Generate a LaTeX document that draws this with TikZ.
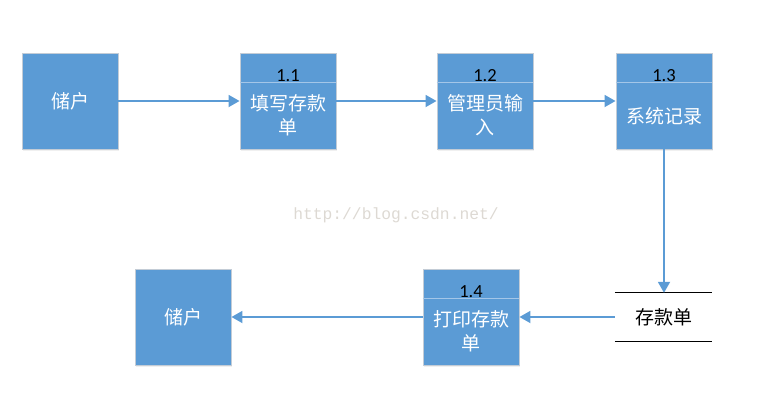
\documentclass[tikz,border=0pt]{standalone}
\usepackage{fontspec}
\setmainfont{Carlito}
\newfontfamily\cjk{Noto Sans CJK SC}
\newfontfamily\wmfont{Liberation Mono}
\usetikzlibrary{arrows.meta,shadows}
\definecolor{boxfill}{HTML}{5B9BD5}
\definecolor{boxedge}{HTML}{C3CCD6}
\definecolor{divcol}{HTML}{A4C6E8}
\definecolor{flowcol}{HTML}{5B9BD5}
\definecolor{wmcol}{HTML}{DDD9D3}
\tikzset{
  entitybox/.style={rectangle, fill=boxfill, draw=boxedge, line width=0.9pt,
    minimum width=96pt, minimum height=96pt, inner sep=0pt,
    drop shadow={opacity=0.12, shadow xshift=0.5pt, shadow yshift=-2pt},
    text=white, font=\cjk\fontsize{19}{24}\selectfont},
  procbox/.style={rectangle, fill=boxfill, draw=boxedge, line width=0.9pt,
    minimum width=96pt, minimum height=96pt, inner sep=0pt,
    drop shadow={opacity=0.12, shadow xshift=0.5pt, shadow yshift=-2pt}},
  divline/.style={draw=divcol, line width=1pt},
  numlabel/.style={anchor=base, inner sep=0pt, text=black,
    font=\fontsize{18.5}{22}\selectfont},
  proclabel/.style={inner sep=0pt, text=white, align=center,
    font=\cjk\fontsize{19}{24}\selectfont},
  storenode/.style={rectangle, minimum width=97pt, minimum height=48pt,
    inner sep=0pt, text=black, font=\cjk\fontsize{19}{24}\selectfont},
  storeline/.style={draw=black, line width=0.9pt},
  flow/.style={draw=flowcol, line width=1.8pt,
    -{Triangle[length=11pt,width=12pt]}},
  watermark/.style={text=wmcol, font=\wmfont\fontsize{16.3}{18}\selectfont, inner sep=0pt}
}
\begin{document}
\begin{tikzpicture}[x=1pt,y=-1pt]
\useasboundingbox (0,0) rectangle (776,410);

% entities
\node[entitybox] (src) at (70,101) {储户};
\node[entitybox] (dst) at (183,317) {储户};

% processes
\node[procbox] (p1) at (288,101) {};
\node[procbox] (p2) at (485,101) {};
\node[procbox] (p3) at (664,101) {};
\node[procbox] (p4) at (471,317) {};

\foreach \p/\n in {p1/1.1,p2/1.2,p3/1.3,p4/1.4}{
  \draw[divline] ([yshift=-30pt]\p.north west) -- ([yshift=-30pt]\p.north east);
  \node[numlabel] (\p num) at ([yshift=-28.7pt]\p.north) {\n};
}
\node[proclabel] (p1txt) at ([yshift=-14pt]p1.center) {填写存款\\单};
\node[proclabel] (p2txt) at ([yshift=-14pt]p2.center) {管理员输\\入};
\node[proclabel] (p3txt) at ([yshift=-15pt]p3.center) {系统记录};
\node[proclabel] (p4txt) at ([yshift=-14pt]p4.center) {打印存款\\单};

% data store
\node[storenode] (store) at (663.5,317) {存款单};
\draw[storeline] (store.north west) -- (store.north east);
\draw[storeline] (store.south west) -- (store.south east);

% watermark
\node[watermark] (wm) at (396,215) {http://blog.csdn.net/};

% flows
\draw[flow] (src.east) -- (p1.west);
\draw[flow] (p1.east) -- (p2.west);
\draw[flow] (p2.east) -- (p3.west);
\draw[flow] (p3.south) -- (p3.south |- store.north);
\draw[flow] (store.west) -- (p4.east);
\draw[flow] (p4.west) -- (dst.east);
\end{tikzpicture}
\end{document}
